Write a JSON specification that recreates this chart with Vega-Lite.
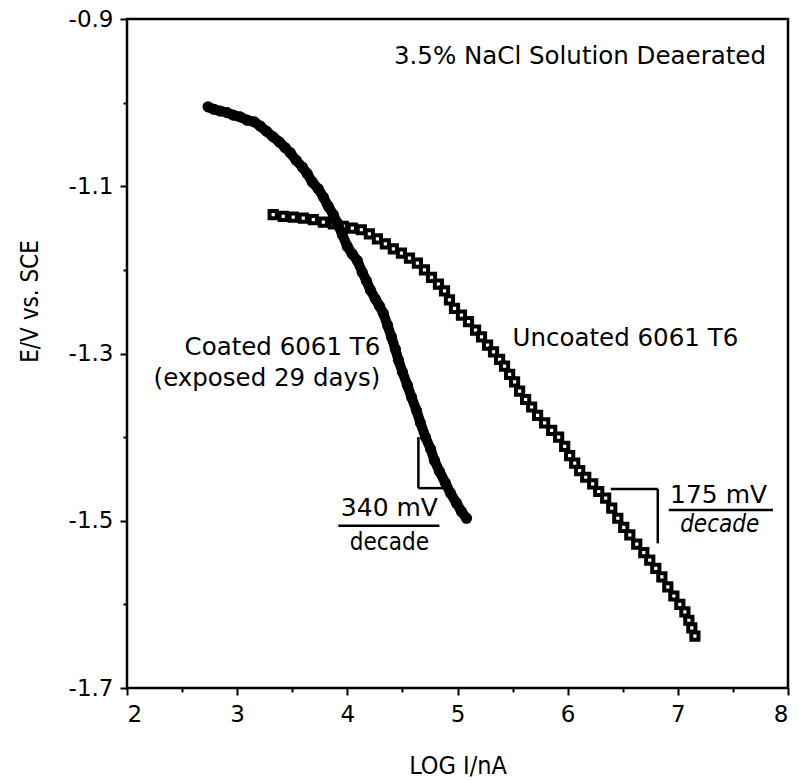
{
  "$schema": "https://vega.github.io/schema/vega-lite/v6.json",
  "width": 661,
  "height": 669,
  "autosize": "none",
  "padding": {"left": 127, "top": 19, "right": 11, "bottom": 92},
  "background": "white",
  "config": {
    "view": {"stroke": "black", "strokeWidth": 2.5},
    "axis": {"grid": false, "domain": false, "tickColor": "black", "labelColor": "black", "titleColor": "black", "labelFont": "DejaVu Sans", "titleFont": "DejaVu Sans Condensed", "titleFontWeight": "normal"}
  },
  "datasets": {
    "coated": [
      {"x": 2.736, "y": -1.005}, {"x": 2.791, "y": -1.008}, {"x": 2.845, "y": -1.010}, {"x": 2.909, "y": -1.012},
      {"x": 2.964, "y": -1.015}, {"x": 3.027, "y": -1.017}, {"x": 3.091, "y": -1.021}, {"x": 3.155, "y": -1.023},
      {"x": 3.209, "y": -1.028}, {"x": 3.264, "y": -1.034}, {"x": 3.327, "y": -1.041}, {"x": 3.382, "y": -1.047},
      {"x": 3.436, "y": -1.054}, {"x": 3.482, "y": -1.060}, {"x": 3.536, "y": -1.069}, {"x": 3.591, "y": -1.077},
      {"x": 3.636, "y": -1.085}, {"x": 3.682, "y": -1.095}, {"x": 3.736, "y": -1.103}, {"x": 3.782, "y": -1.113},
      {"x": 3.827, "y": -1.124}, {"x": 3.873, "y": -1.134}, {"x": 3.909, "y": -1.144}, {"x": 3.955, "y": -1.158},
      {"x": 4.000, "y": -1.172}, {"x": 4.045, "y": -1.181}, {"x": 4.091, "y": -1.189}, {"x": 4.136, "y": -1.203},
      {"x": 4.173, "y": -1.213}, {"x": 4.209, "y": -1.224}, {"x": 4.255, "y": -1.235}, {"x": 4.291, "y": -1.243},
      {"x": 4.327, "y": -1.252}, {"x": 4.364, "y": -1.266}, {"x": 4.400, "y": -1.280}, {"x": 4.436, "y": -1.295},
      {"x": 4.464, "y": -1.308}, {"x": 4.500, "y": -1.322}, {"x": 4.545, "y": -1.338}, {"x": 4.582, "y": -1.352},
      {"x": 4.627, "y": -1.368}, {"x": 4.664, "y": -1.383}, {"x": 4.709, "y": -1.400}, {"x": 4.755, "y": -1.414},
      {"x": 4.791, "y": -1.428}, {"x": 4.836, "y": -1.441}, {"x": 4.891, "y": -1.455}, {"x": 4.936, "y": -1.467},
      {"x": 4.991, "y": -1.479}, {"x": 5.036, "y": -1.489}, {"x": 5.082, "y": -1.497}
    ],
    "uncoated": [
      {"x": 3.327, "y": -1.134}, {"x": 3.418, "y": -1.136}, {"x": 3.509, "y": -1.137}, {"x": 3.600, "y": -1.138},
      {"x": 3.691, "y": -1.140}, {"x": 3.782, "y": -1.143}, {"x": 3.873, "y": -1.145}, {"x": 3.964, "y": -1.148},
      {"x": 4.045, "y": -1.150}, {"x": 4.127, "y": -1.152}, {"x": 4.200, "y": -1.157}, {"x": 4.273, "y": -1.163},
      {"x": 4.345, "y": -1.169}, {"x": 4.418, "y": -1.175}, {"x": 4.491, "y": -1.180}, {"x": 4.564, "y": -1.186},
      {"x": 4.636, "y": -1.192}, {"x": 4.700, "y": -1.200}, {"x": 4.764, "y": -1.209}, {"x": 4.827, "y": -1.217},
      {"x": 4.882, "y": -1.225}, {"x": 4.927, "y": -1.236}, {"x": 4.973, "y": -1.246}, {"x": 5.036, "y": -1.254},
      {"x": 5.100, "y": -1.262}, {"x": 5.164, "y": -1.272}, {"x": 5.218, "y": -1.280}, {"x": 5.273, "y": -1.290},
      {"x": 5.327, "y": -1.298}, {"x": 5.382, "y": -1.307}, {"x": 5.427, "y": -1.315}, {"x": 5.473, "y": -1.325},
      {"x": 5.518, "y": -1.334}, {"x": 5.564, "y": -1.345}, {"x": 5.618, "y": -1.355}, {"x": 5.673, "y": -1.364},
      {"x": 5.727, "y": -1.374}, {"x": 5.791, "y": -1.383}, {"x": 5.855, "y": -1.392}, {"x": 5.918, "y": -1.400},
      {"x": 5.973, "y": -1.411}, {"x": 6.018, "y": -1.422}, {"x": 6.064, "y": -1.431}, {"x": 6.109, "y": -1.440},
      {"x": 6.164, "y": -1.448}, {"x": 6.227, "y": -1.456}, {"x": 6.282, "y": -1.465}, {"x": 6.345, "y": -1.473},
      {"x": 6.400, "y": -1.485}, {"x": 6.455, "y": -1.497}, {"x": 6.509, "y": -1.508}, {"x": 6.564, "y": -1.517},
      {"x": 6.627, "y": -1.528}, {"x": 6.691, "y": -1.538}, {"x": 6.745, "y": -1.547}, {"x": 6.800, "y": -1.557},
      {"x": 6.855, "y": -1.567}, {"x": 6.909, "y": -1.579}, {"x": 6.964, "y": -1.590}, {"x": 7.018, "y": -1.600},
      {"x": 7.064, "y": -1.609}, {"x": 7.100, "y": -1.619}, {"x": 7.127, "y": -1.628}, {"x": 7.155, "y": -1.638}
    ],
    "segments": [
      {"x": 4.645, "y": -1.400, "x2": 4.645, "y2": -1.461},
      {"x": 4.645, "y": -1.461, "x2": 4.873, "y2": -1.461},
      {"x": 3.918, "y": -1.506, "x2": 4.836, "y2": -1.506},
      {"x": 6.391, "y": -1.462, "x2": 6.818, "y2": -1.462},
      {"x": 6.818, "y": -1.462, "x2": 6.818, "y2": -1.527},
      {"x": 6.918, "y": -1.487, "x2": 7.864, "y2": -1.487}
    ]
  },
  "resolve": {"axis": {"x": "independent", "y": "independent"}},
  "layer": [
    {
      "data": {"name": "uncoated"},
      "mark": {"type": "point", "shape": "square", "filled": true, "fill": "white", "stroke": "black", "strokeWidth": 4, "size": 52, "opacity": 1},
      "encoding": {
        "x": {"field": "x", "type": "quantitative", "scale": {"domain": [2, 8], "nice": false, "zero": false},
          "axis": {"orient": "bottom", "values": [2, 3, 4, 5, 6, 7, 8], "tickSize": 7, "tickWidth": 2, "labelFontSize": 23, "labelPadding": 8, "title": "LOG I/nA", "titleFontSize": 25, "titleBaseline": "middle", "titleY": 77}},
        "y": {"field": "y", "type": "quantitative", "scale": {"domain": [-1.7, -0.9], "nice": false, "zero": false},
          "axis": {"orient": "left", "values": [-0.9, -1.1, -1.3, -1.5, -1.7], "format": ".1f", "labelExpr": "replace(datum.label, '\u2212', '-')", "tickSize": 7, "tickWidth": 2, "labelFontSize": 23, "labelPadding": 7, "title": "E/V vs. SCE", "titleFontSize": 24, "titleFont": "Liberation Sans Narrow, DejaVu Sans Condensed", "titleBaseline": "middle", "titleX": -97, "titleY": 282}}
      }
    },
    {
      "data": {"name": "coated"},
      "mark": {"type": "line", "color": "black", "strokeWidth": 10, "strokeCap": "round", "strokeJoin": "round"},
      "encoding": {
        "x": {"field": "x", "type": "quantitative", "axis": null},
        "y": {"field": "y", "type": "quantitative", "axis": null}
      }
    },
    {
      "data": {"name": "coated"},
      "mark": {"type": "point", "shape": "circle", "filled": true, "color": "black", "size": 125, "opacity": 1},
      "encoding": {
        "x": {"field": "x", "type": "quantitative", "axis": null},
        "y": {"field": "y", "type": "quantitative", "axis": null}
      }
    },
    {
      "data": {"name": "segments"},
      "mark": {"type": "rule", "color": "black", "strokeWidth": 2.5},
      "encoding": {
        "x": {"field": "x", "type": "quantitative",
          "axis": {"orient": "bottom", "values": [2.5, 3.5, 4.5, 5.5, 6.5, 7.5], "labels": false, "tickSize": 4, "tickWidth": 2, "title": null}},
        "x2": {"field": "x2"},
        "y": {"field": "y", "type": "quantitative",
          "axis": {"orient": "left", "values": [-1.0, -1.2, -1.4, -1.6], "labels": false, "tickSize": 4, "tickWidth": 2, "title": null}},
        "y2": {"field": "y2"}
      }
    },
    {
      "data": {"values": [
        {"x": 7.8, "y": -0.945, "t": "3.5% NaCl Solution Deaerated"},
        {"x": 4.30, "y": -1.293, "t": "Coated 6061 T6"},
        {"x": 4.30, "y": -1.330, "t": "(exposed 29 days)"}
      ]},
      "mark": {"type": "text", "align": "right", "baseline": "middle", "font": "DejaVu Sans", "fontSize": 24.5, "color": "black"},
      "encoding": {
        "x": {"field": "x", "type": "quantitative", "axis": null},
        "y": {"field": "y", "type": "quantitative", "axis": null},
        "text": {"field": "t"}
      }
    },
    {
      "data": {"values": [
        {"x": 5.5, "y": -1.283, "t": "Uncoated 6061 T6"}
      ]},
      "mark": {"type": "text", "align": "left", "baseline": "middle", "font": "DejaVu Sans", "fontSize": 24.5, "color": "black"},
      "encoding": {
        "x": {"field": "x", "type": "quantitative", "axis": null},
        "y": {"field": "y", "type": "quantitative", "axis": null},
        "text": {"field": "t"}
      }
    },
    {
      "data": {"values": [
        {"x": 4.382, "y": -1.485, "t": "340 mV"},
        {"x": 7.37, "y": -1.469, "t": "175 mV"}
      ]},
      "mark": {"type": "text", "align": "center", "baseline": "middle", "font": "DejaVu Sans", "fontSize": 25, "color": "black"},
      "encoding": {
        "x": {"field": "x", "type": "quantitative", "axis": null},
        "y": {"field": "y", "type": "quantitative", "axis": null},
        "text": {"field": "t"}
      }
    },
    {
      "data": {"values": [
        {"x": 4.382, "y": -1.527, "t": "decade"}
      ]},
      "mark": {"type": "text", "align": "center", "baseline": "middle", "font": "Liberation Sans Narrow, DejaVu Sans Condensed", "fontSize": 24, "color": "black"},
      "encoding": {
        "x": {"field": "x", "type": "quantitative", "axis": null},
        "y": {"field": "y", "type": "quantitative", "axis": null},
        "text": {"field": "t"}
      }
    },
    {
      "data": {"values": [
        {"x": 7.38, "y": -1.505, "t": "decade"}
      ]},
      "mark": {"type": "text", "align": "center", "baseline": "middle", "font": "Liberation Sans Narrow, DejaVu Sans Condensed", "fontStyle": "italic", "fontSize": 24, "color": "black"},
      "encoding": {
        "x": {"field": "x", "type": "quantitative", "axis": null},
        "y": {"field": "y", "type": "quantitative", "axis": null},
        "text": {"field": "t"}
      }
    }
  ]
}
